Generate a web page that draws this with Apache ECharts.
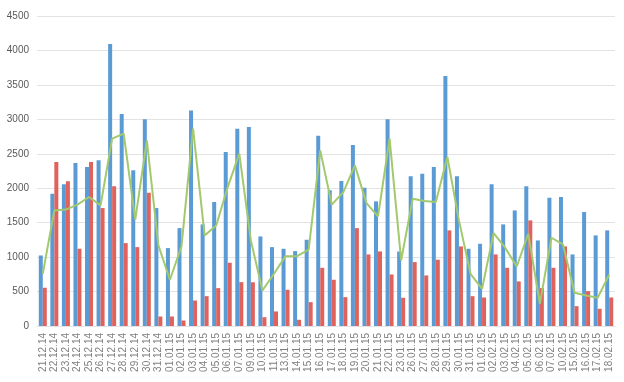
<!DOCTYPE html>
<html>
<head>
<meta charset="utf-8">
<script src="https://cdn.jsdelivr.net/npm/echarts@6/dist/echarts.min.js"></script>
<style>
  html, body { margin: 0; padding: 0; background: #fff; }
  #chart { width: 624px; height: 382px; }
</style>
</head>
<body>
<div id="chart"></div>
<script>
const dates = ['21.12.14', '22.12.14', '23.12.14', '24.12.14', '25.12.14', '26.12.14', '27.12.14', '28.12.14', '29.12.14', '30.12.14',
  '31.12.14', '01.01.15', '02.01.15', '03.01.15', '04.01.15', '05.01.15', '06.01.15', '07.01.15', '09.01.15', '10.01.15',
  '11.01.15', '13.01.15', '14.01.15', '15.01.15', '16.01.15', '17.01.15', '18.01.15', '19.01.15', '20.01.15', '21.01.15',
  '22.01.15', '23.01.15', '26.01.15', '27.01.15', '28.01.15', '29.01.15', '30.01.15', '31.01.15', '01.02.15', '02.02.15',
  '03.02.15', '04.02.15', '05.02.15', '06.02.15', '07.02.15', '10.02.15', '15.02.15', '16.02.15', '17.02.15', '18.02.15'];

const blueValues = [1024, 1921, 2056, 2366, 2308, 2405, 4095, 3078, 2260, 3000,
  1712, 1131, 1421, 3127, 1475, 1800, 2525, 2865, 2889, 1300,
  1145, 1121, 1087, 1252, 2763, 1969, 2104, 2627, 2008, 1809,
  3000, 1082, 2172, 2211, 2308, 3630, 2172, 1121, 1194, 2056,
  1475, 1678, 2027, 1242, 1862, 1872, 1039, 1654, 1315, 1388];

const redValues = [555, 2380, 2100, 1121, 2380, 1712, 2027, 1203, 1145, 1935,
  138, 138, 80, 370, 433, 550, 918, 637, 635, 128,
  211, 526, 90, 346, 845, 671, 419, 1421, 1039, 1082,
  748, 410, 928, 734, 962, 1388, 1155, 433, 414, 1039,
  845, 647, 1533, 550, 845, 1155, 288, 506, 250, 414];

const greenValues = [758, 1678, 1690, 1761, 1872, 1751, 2720, 2793, 1543, 2695,
  1170, 671, 1155, 2865, 1315, 1460, 2017, 2502, 1242, 516,
  758, 1014, 1014, 1107, 2550, 1761, 1944, 2332, 1784, 1591,
  2720, 952, 1848, 1814, 1800, 2453, 1533, 758, 540, 1349,
  1136, 864, 1339, 322, 1281, 1184, 482, 443, 409, 748];

const chart = echarts.init(document.getElementById('chart'));
chart.setOption({
  animation: false,
  textStyle: { fontFamily: 'Liberation Sans' },
  grid: { left: 37, right: 9, top: 16, bottom: 56 },
  xAxis: {
    type: 'category',
    data: dates,
    boundaryGap: true,
    axisLine: { lineStyle: { color: '#e3e3e3' } },
    axisTick: { show: false },
    axisLabel: { rotate: 90, interval: 0, fontSize: 10, color: '#7f7f7f', margin: 7 }
  },
  yAxis: {
    type: 'value',
    min: 0,
    max: 4500,
    interval: 500,
    axisLine: { show: false },
    axisTick: { show: false },
    splitLine: { lineStyle: { color: '#e3e3e3', width: 1 } },
    axisLabel: { fontSize: 10, color: '#595959', margin: 8, formatter: v => String(v) }
  },
  series: [
    {
      name: 'blue',
      type: 'bar',
      data: blueValues,
      barWidth: 4,
      barGap: '0%',
      itemStyle: { color: '#5b9bd5' }
    },
    {
      name: 'red',
      type: 'bar',
      data: redValues,
      barWidth: 4,
      itemStyle: { color: '#e0625c' }
    },
    {
      name: 'green',
      type: 'line',
      data: greenValues,
      symbol: 'none',
      lineStyle: { color: '#a3c96e', width: 2 },
      z: 5
    }
  ]
});
</script>
</body>
</html>
